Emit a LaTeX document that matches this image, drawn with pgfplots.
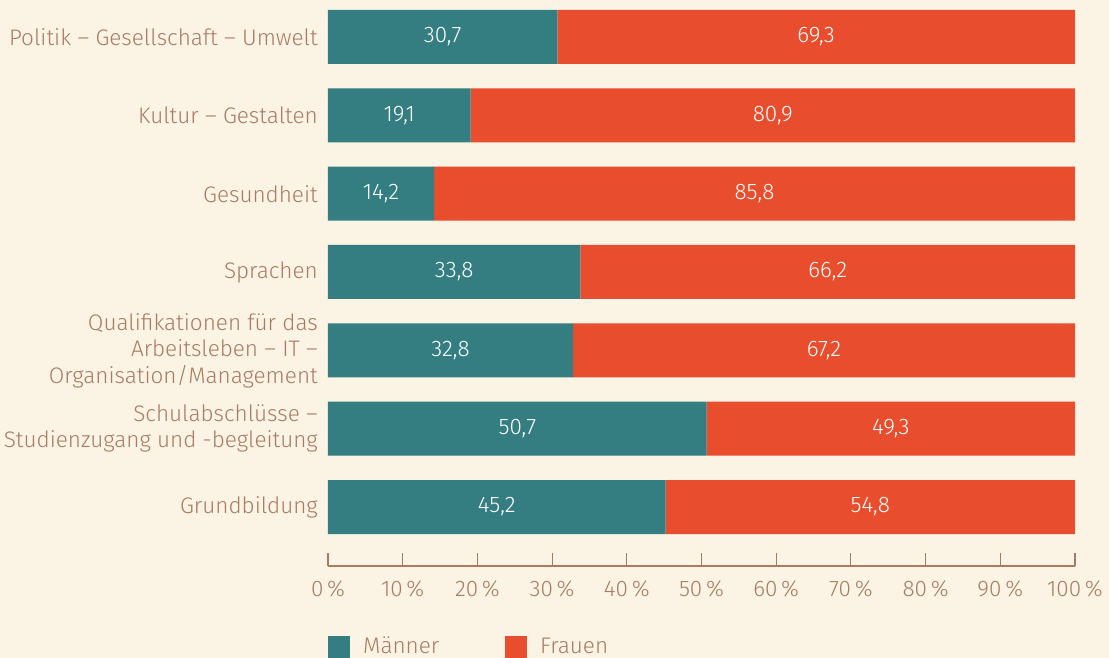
\documentclass[border=0pt]{standalone}
\usepackage{fontspec}
\setmainfont{Fira Sans}[UprightFont={* Light}]
\usepackage{pgfplots}
\pgfplotsset{compat=1.18}
\definecolor{bg}{HTML}{FBF3E3}
\definecolor{teal}{HTML}{347E82}
\definecolor{rot}{HTML}{E84E2E}
\definecolor{txt}{HTML}{A97C62}
\newcommand{\fs}{\fontsize{22.5}{26.5}\selectfont}
\begin{document}
\fs
\begin{tikzpicture}
\path[use as bounding box, fill=bg] (-328pt,-92pt) rectangle (781pt,566pt);
\begin{axis}[
  at={(0,0)}, anchor=south west,
  scale only axis, width=747pt, height=566pt,
  xbar stacked, bar width=54pt,
  xmin=0, xmax=100,
  ymin=-0.472, ymax=6.753, y dir=reverse,
  axis x line=bottom, axis y line=left,
  x axis line style={-, draw=txt, line width=1.1pt},
  y axis line style={draw=none},
  xtick={0,10,...,100},
  xticklabel={\pgfmathprintnumber{\tick}\,\%},
  tick align=inside,
  major tick length=13pt,
  xtick style={draw=txt, line width=1.1pt},
  ytick style={draw=none},
  ytick={0,...,6},
  yticklabels={{Politik – Gesellschaft – Umwelt},{Kultur – Gestalten},{Gesundheit},{Sprachen},{Qualifikationen für das\\Arbeitsleben – IT –\\Organisation/Management},{Schulabschlüsse –\\Studienzugang und -begleitung},{Grundbildung}},
  yticklabel style={align=right, inner sep=0pt, xshift=-10pt, text=txt, font=\fs},
  xticklabel style={text=txt, font=\fs, inner sep=0pt, yshift=-14pt},
  /pgf/number format/assume math mode=true,
  nodes near coords,
  point meta=explicit symbolic,
  every node near coord/.style={anchor=center, text=white, font=\fs},
  legend columns=2,
  legend style={at={(axis description cs:0,-0.1431)}, anchor=west, draw=none, fill=none, inner sep=0pt, text=txt, font=\fs, /tikz/every even column/.append style={column sep=0pt}},
  legend cell align=left,
  legend image code/.code={\fill[#1] (0pt,-11pt) rectangle (22pt,11pt);},
]
\addplot[fill=teal, draw=none] coordinates {
 (30.7,0) [30,7]
 (19.1,1) [19,1]
 (14.2,2) [14,2]
 (33.8,3) [33,8]
 (32.8,4) [32,8]
 (50.7,5) [50,7]
 (45.2,6) [45,2]
};
\addplot[fill=rot, draw=none] coordinates {
 (69.3,0) [69,3]
 (80.9,1) [80,9]
 (85.8,2) [85,8]
 (66.2,3) [66,2]
 (67.2,4) [67,2]
 (49.3,5) [49,3]
 (54.8,6) [54,8]
};
\legend{\hspace{11pt}\makebox[140pt][l]{Männer},\hspace{11pt}Frauen}
\end{axis}
\end{tikzpicture}
\end{document}
